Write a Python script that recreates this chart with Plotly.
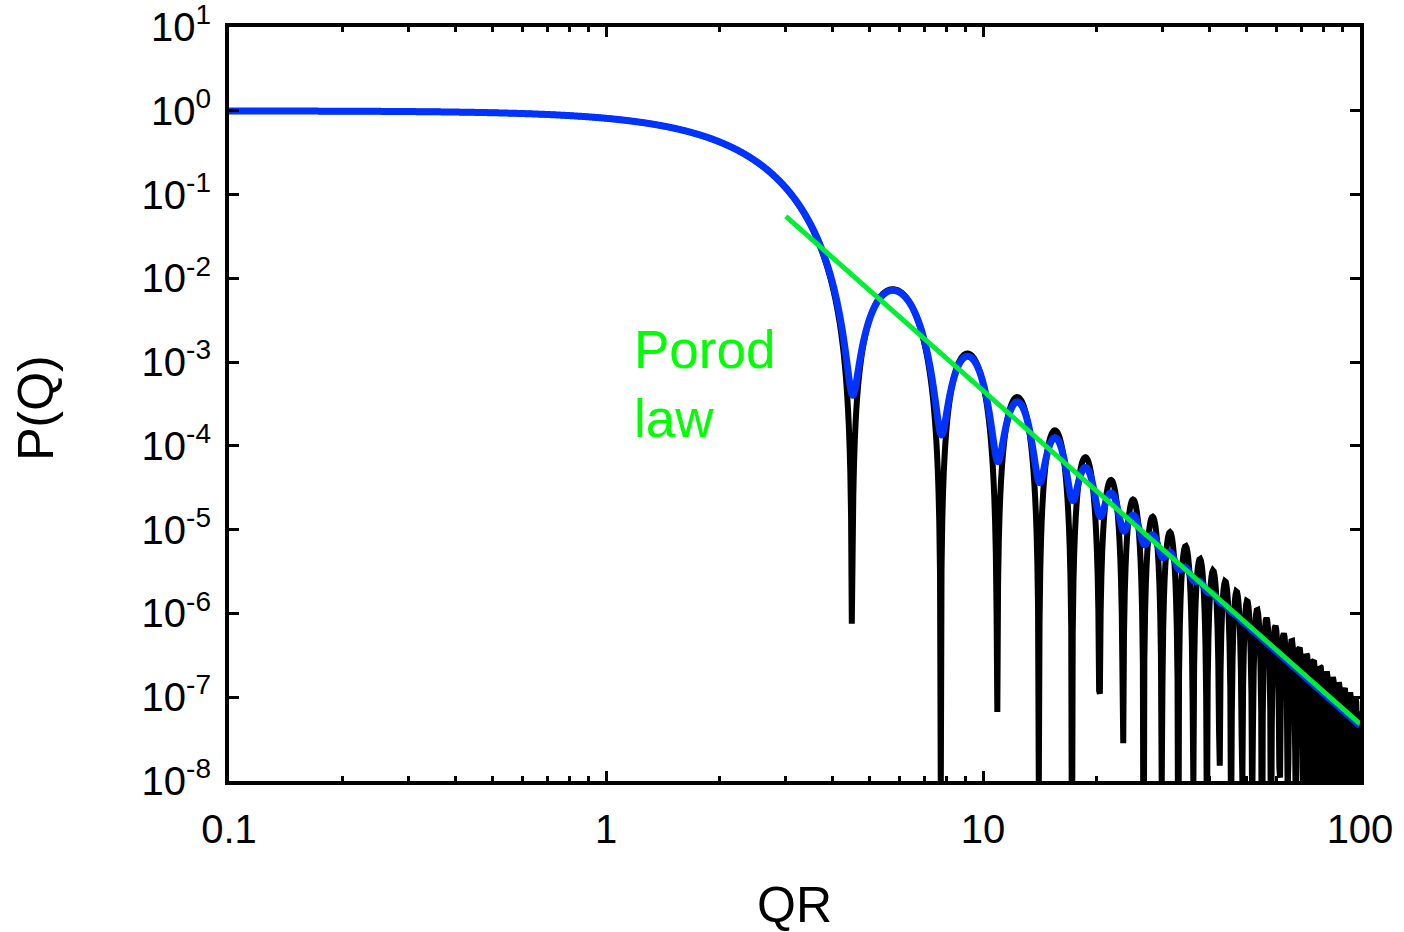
import numpy as np
import plotly.graph_objects as go

# ---- values ----
qr_range = [0.1, 100]                     # x-axis extent (QR)
rel_polydispersity = 0.031                # estimated from the depth of the blue minima
porod_qr = [3.0, 100.0]                   # green Porod-law line end points
porod_p = [0.055, 4.8e-8]
# lowest value reached by the black curve in its first 14 dips (None = runs off the bottom axis)
dip_bottoms = [8.0e-7, None, 7.2e-8, None, None, 1.17e-7, 3.0e-8,
               None, None, None, None, None, 1.6e-8, None]
x_tick_vals = [0.1, 1, 10, 100]
x_tick_text = ["0.1", "1", "10", "100"]
y_tick_vals = [1e1, 1e0, 1e-1, 1e-2, 1e-3, 1e-4, 1e-5, 1e-6, 1e-7, 1e-8]
y_tick_text = ["10<sup>1</sup>", "10<sup>0</sup>", "10<sup>-1</sup>", "10<sup>-2</sup>",
               "10<sup>-3</sup>", "10<sup>-4</sup>", "10<sup>-5</sup>", "10<sup>-6</sup>",
               "10<sup>-7</sup>", "10<sup>-8</sup>"]
x_title = "QR"
y_title = "P(Q)"
porod_label = "Porod<br>law"


def sphere_form_factor(x):
    return (3.0 * (np.sin(x) - x * np.cos(x)) / x ** 3) ** 2


# zeros of the form factor (tan x = x)
n = np.arange(1, len(dip_bottoms) + 1)
zeros = (n + 0.5) * np.pi - 1.0 / ((n + 0.5) * np.pi)
for _ in range(8):
    zeros = zeros - (np.sin(zeros) - zeros * np.cos(zeros)) / (zeros * np.sin(zeros))


def dip_cost(grid):
    idx = np.clip(np.searchsorted(grid, zeros), 1, len(grid) - 1)
    pmin = np.minimum(sphere_form_factor(grid[idx - 1]), sphere_form_factor(grid[idx]))
    lp = np.log10(np.maximum(pmin, 1e-12))
    cost = 0.0
    for v, t in zip(lp, dip_bottoms):
        cost += (v - np.log10(t)) ** 2 if t is not None else max(0.0, v + 7.95) ** 2
    return cost


# pick the sampling of the black curve whose dips best match the picture
lo, hi = qr_range
candidates = []
for N in range(200, 5001):
    candidates.append(np.logspace(np.log10(lo), np.log10(hi), N))
    candidates.append(np.linspace(lo, hi, N))
qr_black = min(candidates, key=dip_cost)
p_mono = sphere_form_factor(qr_black)

qr = np.logspace(np.log10(lo), np.log10(hi), 4000)
r = np.linspace(1 - 4 * rel_polydispersity, 1 + 4 * rel_polydispersity, 81)
w = np.exp(-0.5 * ((r - 1) / rel_polydispersity) ** 2)
p_poly = (sphere_form_factor(np.outer(qr, r)) * w).sum(axis=1) / w.sum()

FONT = "Liberation Sans, Arial, Helvetica, sans-serif"

fig = go.Figure()
fig.add_trace(go.Scatter(x=qr_black, y=p_mono, mode="lines",
                         line=dict(color="black", width=6, simplify=False), showlegend=False))
fig.add_trace(go.Scatter(x=qr, y=p_poly, mode="lines",
                         line=dict(color="#0033ff", width=7, simplify=False), showlegend=False))
fig.add_trace(go.Scatter(x=porod_qr, y=porod_p, mode="lines",
                         line=dict(color="#00ee33", width=5), showlegend=False))

axis_common = dict(
    showline=True, linewidth=4, linecolor="black", mirror="ticks",
    ticks="inside", tickwidth=3, tickcolor="black", showgrid=False, zeroline=False,
    automargin=False, ticklabeloverflow="allow",
    tickfont=dict(family=FONT, size=40, color="black"),
)

fig.update_xaxes(
    type="log", range=[np.log10(lo), np.log10(hi)],
    tickvals=x_tick_vals, ticktext=x_tick_text, ticklen=10, ticklabelstandoff=10,
    minor=dict(ticks="inside", ticklen=5, tickwidth=3, tickcolor="black", dtick="D1", showgrid=False),
    **axis_common,
)
fig.update_yaxes(
    type="log", range=[-8.002, 1.002],
    tickvals=y_tick_vals, ticktext=y_tick_text, ticklen=10, ticklabelstandoff=6,
    **axis_common,
)

fig.add_annotation(x=0.069, y=-3.26, xref="x", yref="y", text=porod_label,
                   showarrow=False, xanchor="left", yanchor="middle", align="left",
                   font=dict(family=FONT, size=53, color="#00ff00"))
fig.add_annotation(x=0.5, y=-0.1645, xref="paper", yref="paper", text=x_title,
                   showarrow=False, xanchor="center", yanchor="middle",
                   font=dict(family=FONT, size=50, color="black"))
fig.add_annotation(x=-0.1706, y=0.495, xref="paper", yref="paper", text=y_title,
                   showarrow=False, xanchor="center", yanchor="middle", textangle=-90,
                   font=dict(family=FONT, size=50, color="black"))

fig.update_layout(
    width=1404, height=932,
    margin=dict(l=229, r=44, t=27, b=151),
    plot_bgcolor="white", paper_bgcolor="white",
)

fig.write_html("out.html", config={"displayModeBar": False},
               post_script="document.body.style.margin='0';document.body.style.overflow='hidden';")
